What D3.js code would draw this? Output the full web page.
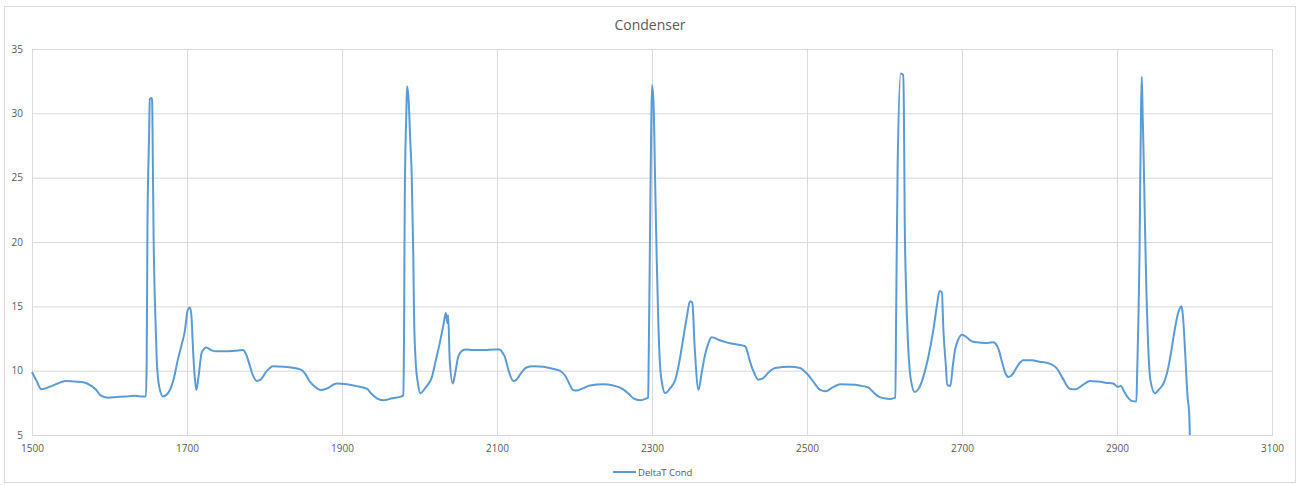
<!DOCTYPE html>
<html><head><meta charset="utf-8">
<script src="https://cdn.jsdelivr.net/npm/d3@7"></script>
<style>
html,body{margin:0;padding:0;background:#fff;}
svg{display:block;font-family:"Open Sans","Noto Sans",sans-serif;}
</style></head>
<body><svg id="c" width="1304" height="485"></svg>
<script>
const title = "Condenser";
const seriesName = "DeltaT Cond";
const xTicks = [1500,1700,1900,2100,2300,2500,2700,2900,3100];
const yTicks = [5,10,15,20,25,30,35];
const xVals = [1500,1506,1512,1523,1533,1543,1555,1566,1577,1583,1588,1598,1610,1622,1632,1640,1647,1648,1649,1651,1652,1654,1655,1656,1657,1659,1661,1664,1669,1673,1678,1683,1688,1693,1697,1701,1704,1706,1708,1710,1712,1715,1719,1725,1731,1738,1750,1762,1772,1776,1779,1784,1790,1795,1802,1811,1825,1838,1846,1852,1858,1865,1872,1880,1893,1906,1919,1932,1938,1945,1953,1965,1977,1979,1980,1981,1983,1984,1986,1988,1990,1992,1993,1995,1998,2001,2008,2016,2021,2026,2031,2034,2036,2037,2039,2043,2046,2050,2054,2059,2070,2085,2096,2104,2107,2110,2115,2121,2125,2131,2138,2147,2160,2172,2181,2188,2194,2198,2203,2210,2220,2237,2250,2263,2270,2276,2285,2293,2295,2296,2298,2299,2300,2302,2304,2306,2308,2310,2313,2317,2323,2330,2335,2340,2345,2349,2352,2355,2360,2364,2368,2372,2377,2386,2396,2408,2420,2423,2426,2432,2437,2443,2451,2459,2478,2491,2496,2501,2510,2517,2524,2533,2543,2562,2572,2579,2586,2592,2600,2607,2614,2615,2617,2621,2624,2625,2626,2628,2630,2634,2639,2645,2650,2657,2663,2668,2671,2674,2676,2679,2681,2685,2688,2691,2695,2700,2706,2712,2719,2730,2740,2744,2747,2752,2756,2760,2765,2772,2779,2790,2800,2813,2818,2822,2830,2839,2847,2855,2865,2876,2887,2895,2901,2905,2909,2913,2919,2925,2926,2929,2931,2932,2933,2934,2936,2938,2940,2943,2949,2955,2960,2966,2970,2973,2979,2983,2984,2986,2988,2991,2993,2994];
const yVals = [9.9,9.2,8.55,8.75,9.0,9.2,9.15,9.1,8.8,8.5,8.1,7.9,7.95,8.0,8.05,8.0,8.0,10.8,21.5,28,31.1,31.2,31.0,25.7,20,14.5,10.8,8.8,8.0,8.1,8.5,9.4,10.8,12.0,13.0,14.7,14.9,14.0,11.4,9.5,8.5,9.6,11.4,11.8,11.6,11.5,11.5,11.55,11.6,11.3,10.8,9.8,9.2,9.3,9.9,10.35,10.3,10.2,10.1,9.8,9.2,8.75,8.5,8.6,9.0,8.95,8.8,8.6,8.2,7.85,7.7,7.85,8.0,8.1,12.25,23.5,30,32.1,31.0,28,25.1,18.9,14.2,10.8,9.0,8.25,8.7,9.5,10.8,12.1,13.6,14.5,13.7,14.3,10.8,9.0,9.8,11.1,11.5,11.65,11.6,11.6,11.65,11.65,11.4,11.1,10.0,9.2,9.3,9.8,10.25,10.35,10.3,10.15,10.0,9.6,8.9,8.5,8.45,8.6,8.85,8.95,8.85,8.55,8.2,7.85,7.7,7.85,7.9,12.25,23.8,29,32.2,30.8,24.8,18.9,14.1,10.8,9.0,8.25,8.6,9.3,10.6,12.4,14.2,15.4,15.3,11.9,8.5,9.8,11.1,12.0,12.6,12.4,12.2,12.05,11.9,11.5,10.8,9.8,9.3,9.4,9.9,10.2,10.3,10.2,10.0,9.7,9.0,8.5,8.4,8.7,8.95,8.9,8.8,8.7,8.3,8.0,7.85,7.8,7.9,14.2,26.1,33.1,33.0,30.5,22.2,16.0,12.6,9.3,8.35,8.7,9.5,11.2,13.15,15.2,16.2,16.1,13.15,10.5,8.9,8.8,10.3,11.6,12.4,12.8,12.6,12.3,12.2,12.15,12.2,12.05,11.7,10.6,9.8,9.5,9.7,10.4,10.8,10.8,10.7,10.55,10.4,10.2,9.4,8.6,8.55,8.85,9.2,9.15,9.05,9.0,8.75,8.8,8.4,8.0,7.65,7.6,9.8,18.85,30.25,32.85,30.2,27.7,21.6,16.0,12.25,9.3,8.25,8.6,9.0,10.2,11.5,12.65,14.5,15.0,14.8,13.5,11.35,8.0,6.8,5.0];

const svg = d3.select("#c");
const m = {left:32, right:1272, top:49, bottom:435};
const x = d3.scaleLinear().domain([1500,3100]).range([m.left, m.right]);
const y = d3.scaleLinear().domain([5,35]).range([m.bottom, m.top]);
const grid = "#d9d9d9", txt = "#595959", lineC = "#5b9bd5";

svg.append("rect").attr("x",4.5).attr("y",6.5).attr("width",1291).attr("height",476)
  .attr("fill","#fff").attr("stroke",grid).attr("stroke-width",1);

svg.append("text").attr("x",650).attr("y",30).attr("text-anchor","middle")
  .attr("font-size",14).attr("fill",txt).text(title);

const gy = svg.append("g").attr("transform",`translate(${m.left},0)`)
  .call(d3.axisLeft(y).tickValues(yTicks).tickSize(-(m.right-m.left)).tickPadding(9).tickFormat(d3.format("d")));
gy.select(".domain").attr("stroke",grid);
gy.selectAll(".tick line").attr("stroke",grid);
gy.selectAll(".tick text").attr("fill",txt).attr("font-size",10).attr("font-family","Open Sans");

const gx = svg.append("g").attr("transform",`translate(0,${m.bottom})`)
  .call(d3.axisBottom(x).tickValues(xTicks).tickSize(-(m.bottom-m.top)).tickPadding(10).tickFormat(d3.format("d")));
gx.select(".domain").attr("stroke",grid);
gx.selectAll(".tick line").attr("stroke",grid);
gx.selectAll(".tick text").attr("fill",txt).attr("font-size",10).attr("font-family","Open Sans");

const data = xVals.map((v,i)=>[v,yVals[i]]);
svg.append("path").datum(data)
  .attr("fill","none").attr("stroke",lineC).attr("stroke-width",2).attr("stroke-linejoin","round")
  .attr("d", d3.line().curve(d3.curveMonotoneX).x(d=>x(d[0])).y(d=>y(d[1])));

const lg = svg.append("g");
lg.append("line").attr("x1",613).attr("x2",636).attr("y1",472).attr("y2",472).attr("stroke",lineC).attr("stroke-width",2);
lg.append("text").attr("x",638).attr("y",475.5).attr("font-size",9.5).attr("fill",txt).text(seriesName);
</script></body></html>
